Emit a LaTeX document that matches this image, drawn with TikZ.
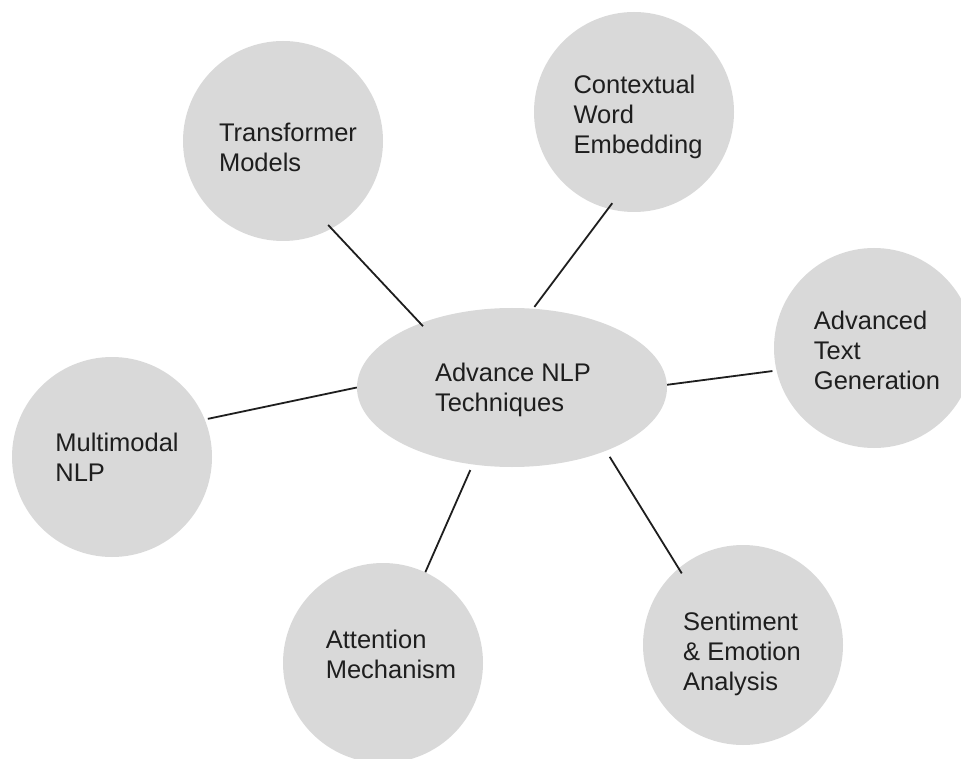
\documentclass[tikz,border=0pt]{standalone}
\usepackage{fontspec}
\setmainfont{Liberation Sans}
\usetikzlibrary{shapes.geometric}
\definecolor{bubble}{HTML}{D9D9D9}
\definecolor{ink}{HTML}{1E1E1E}
\begin{document}
\begin{tikzpicture}[x=1pt,y=-1pt,
  topic/.style={circle,fill=bubble,draw=none,minimum size=200pt,inner sep=0pt},
  hub/.style={ellipse,fill=bubble,draw=none,minimum width=310pt,minimum height=159pt,inner sep=0pt},
  caption/.style={align=left,text=ink,inner sep=0pt,font=\fontsize{25.5}{30}\selectfont},
  link/.style={draw=ink,line width=1.8pt}]
\useasboundingbox (0,0) rectangle (961,759);

% central hub
\node[hub] (hub) at (512,387.5) {};
\node[caption] (hub-t) at ([xshift=1pt,yshift=-2pt]hub.center) {Advance NLP\\Techniques};

% surrounding topics
\node[topic] (tm)  at (283,141) {};
\node[topic] (ctx) at (634,112) {};
\node[topic] (atg) at (874,348) {};
\node[topic] (mm)  at (112,457) {};
\node[topic] (att) at (383,663) {};
\node[topic] (sen) at (743,645) {};

\node[caption] (tm-t)  at ([xshift=5pt,yshift=-6pt]tm.center)   {Transformer\\Models};
\node[caption] (ctx-t) at ([xshift=4pt,yshift=-5pt]ctx.center)  {Contextual\\Word\\Embedding};
\node[caption] (atg-t) at ([xshift=3pt,yshift=-2pt]atg.center)  {Advanced\\Text\\Generation};
\node[caption] (mm-t)  at ([xshift=5pt]mm.center)               {Multimodal\\NLP};
\node[caption] (att-t) at ([xshift=8pt,yshift=9pt]att.center)   {Attention\\Mechanism};
\node[caption] (sen-t) at ([xshift=-1pt,yshift=-9pt]sen.center) {Sentiment\\\& Emotion\\Analysis};

% spokes
\draw[link,shorten <=-4pt,shorten >=-5pt] (hub.145) -- (tm.299);
\draw[link,shorten <=2pt,shorten >=-7pt]  (hub.75)  -- (ctx.255);
\draw[link,shorten >=4pt]                 (hub.1)   -- (atg.193);
\draw[link,shorten >=3pt]                 (hub.180) -- (mm.22);
\draw[link,shorten <=6pt]                 (hub.243) -- (att.65);
\draw[link,shorten <=7pt,shorten >=-6pt]  (hub.326) -- (sen.130);
\end{tikzpicture}
\end{document}
